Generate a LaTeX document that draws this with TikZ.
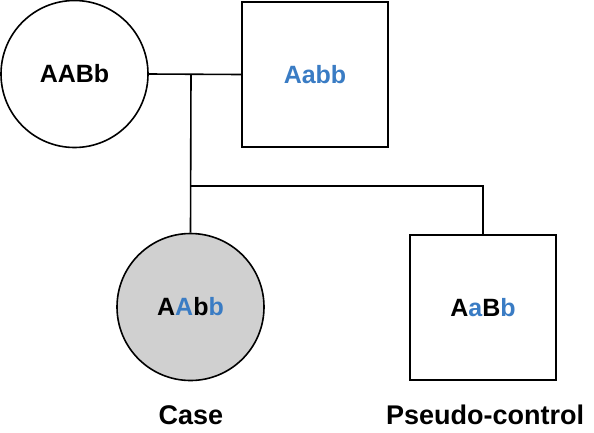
\documentclass[tikz,border=0pt]{standalone}
\usepackage{fontspec}
\setmainfont{Liberation Sans}
\definecolor{gblue}{HTML}{3A7CC4}
\definecolor{gfill}{HTML}{D0D0D0}
\begin{document}
\begin{tikzpicture}[x=1pt,y=-1pt,
  person/.style={draw=black,line width=1.6pt,inner sep=0pt,font=\fontsize{25}{27}\selectfont\bfseries},
  female/.style={person,circle,minimum size=147pt},
  male/.style={person,rectangle,minimum width=146pt,minimum height=145pt},
  lbl/.style={font=\fontsize{27}{30}\selectfont\bfseries,inner sep=0pt},
  link/.style={line width=1.6pt}]
\useasboundingbox (0,0) rectangle (594,432);
\node[female] (mom) at (74.5,74) {AABb};
\node[male] (dad) at (315,74.5) {\textcolor{gblue}{Aabb}};
\node[female,fill=gfill] (case) at (190.5,307) {A\textcolor{gblue}{A}b\textcolor{gblue}{b}};
\node[male] (pc) at (483,307.5) {A\textcolor{gblue}{a}B\textcolor{gblue}{b}};
\node[lbl] (caselbl) at (191,415) {Case};
\node[lbl] (pclbl) at (485,415) {Pseudo-control};
\coordinate (mid) at (191,74);
\coordinate (sib) at (191,186);
\coordinate (sibr) at (483,186);
\draw[link] (mom.east) -- (dad.west);
\draw[link] (mid) -- (case.north);
\draw[link] (sib) -- (sibr) -- (pc.north);
\end{tikzpicture}
\end{document}
